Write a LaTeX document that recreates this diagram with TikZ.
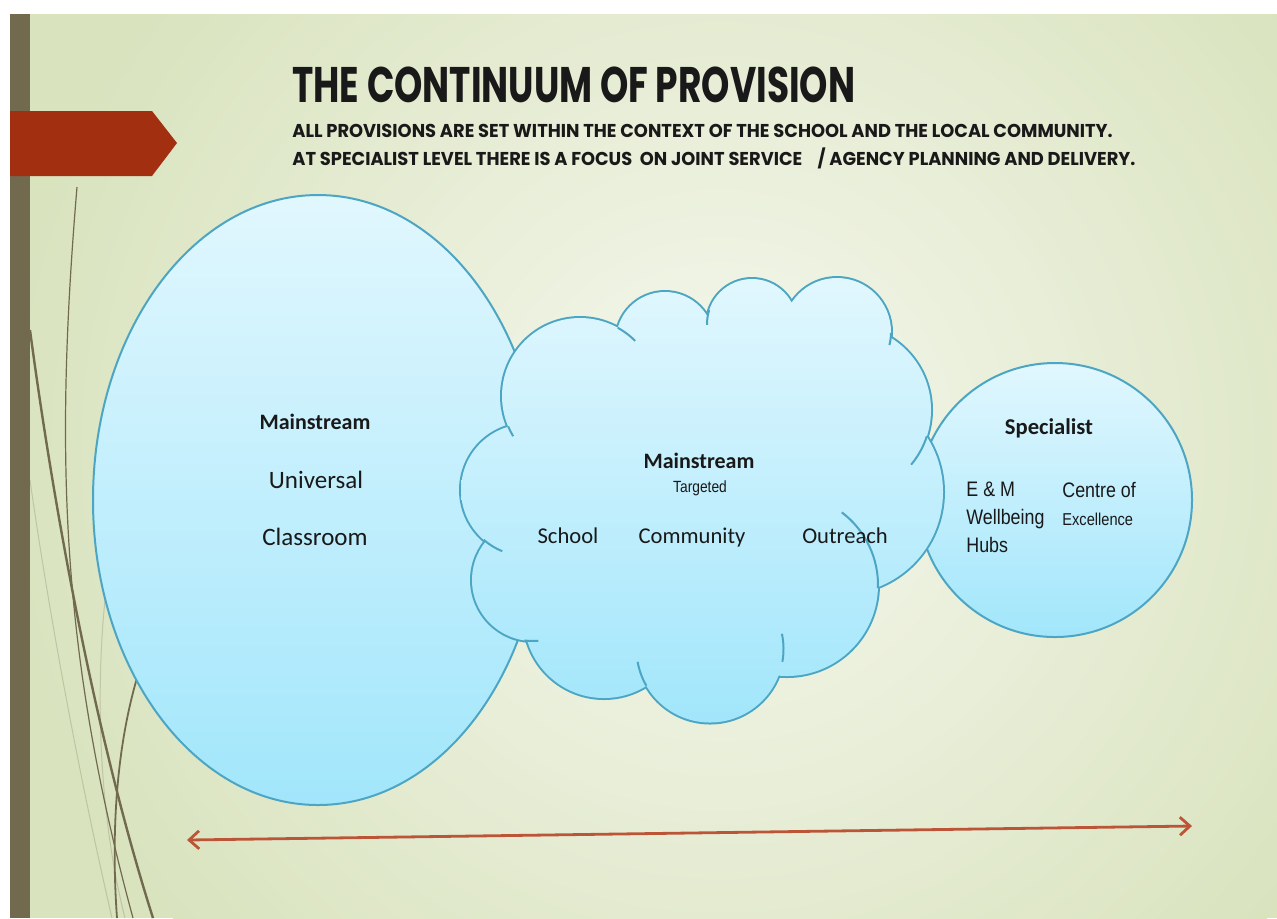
\documentclass[tikz,border=0pt]{standalone}
\usepackage{fontspec}
\setmainfont{Carlito}
\newfontfamily\headfont[FakeStretch=0.72]{Poppins}
\newfontfamily\subfont[FakeStretch=0.96]{Poppins}
\newfontfamily\narrowfont[FakeStretch=0.85]{Liberation Sans}
\usetikzlibrary{arrows.meta}

\definecolor{bgin}{HTML}{F6F8EF}
\definecolor{bgout}{HTML}{D9E3BE}
\definecolor{barbrown}{HTML}{716A4F}
\definecolor{tabred}{HTML}{A32F11}
\definecolor{bubtop}{HTML}{E1F7FE}
\definecolor{bubbot}{HTML}{A2E6FB}
\definecolor{bubline}{HTML}{4CA6C3}
\definecolor{arrowred}{HTML}{BC5538}

\tikzset{
  bubble/.style={draw=bubline, line width=1pt, top color=bubtop, bottom color=bubbot},
  wisp/.style={draw=barbrown},
  label/.style={inner sep=0pt, text=black!90},
}

\begin{document}
\begin{tikzpicture}[x=0.5pt,y=-0.5pt]
\useasboundingbox (0,0) rectangle (1277,918);
\fill[white] (0,0) rectangle (1277,918);

% slide background
\fill[bgout] (10,14) rectangle (1277,918);
\begin{scope}
\clip (10,14) rectangle (1277,918);
\shade[inner color=bgin, outer color=bgout] (720,450) circle (720);
\end{scope}

% wisps at the left edge
\draw[wisp, line width=0.5pt, opacity=0.25] (30,480) .. controls (50,620) and (80,780) .. (112,918);
\draw[wisp, line width=0.5pt, opacity=0.25] (105,600) .. controls (95,700) and (100,820) .. (125,918);
\draw[wisp, line width=0.6pt] (77,187) .. controls (55,450) and (60,650) .. (133,918);
\draw[wisp, line width=1.2pt] (30,330) .. controls (50,480) and (90,720) .. (153,918);
\draw[wisp, line width=0.9pt] (150,640) .. controls (118,720) and (110,820) .. (117,918);

\fill[barbrown] (10,14) rectangle (30,918);
\fill[tabred] (10,111) -- (152,111) -- (177,143) -- (152,176) -- (10,176) -- cycle;

% title
\node[label, anchor=base west, font=\headfont\bfseries\fontsize{25}{30}\selectfont] (title) at (292,102) {THE CONTINUUM OF PROVISION};
\node[label, anchor=base west, font=\subfont\bfseries\fontsize{9.3}{14}\selectfont] (subone) at (292,137) {ALL PROVISIONS ARE SET WITHIN THE CONTEXT OF THE SCHOOL AND THE LOCAL COMMUNITY.};
\node[label, anchor=base west, font=\subfont\bfseries\fontsize{9.3}{14}\selectfont] (subtwo) at (292,165) {AT SPECIALIST LEVEL THERE IS A FOCUS \ ON JOINT SERVICE \ \ \ / AGENCY PLANNING AND DELIVERY.};

% the three provisions
\shade[bubble] (318,500) ellipse (225 and 305);
\shade[bubble] (1055,500) circle (137);

\def\puffs{580/396/78, 665/341/49, 752/324/45, 837/332/54, 846/410/85, 841/492/102,
  787/585/91, 710/649/73.5, 604/618/80, 533/580/61, 527/490/66}
\draw[bubline, line width=2pt] foreach \cx/\cy/\r in \puffs {(\cx,\cy) circle (\r)};
\shade[top color=bubtop, bottom color=bubbot] foreach \cx/\cy/\r in \puffs {(\cx,\cy) circle (\r)}
  (700,480) circle (140) (760,390) circle (50);
\foreach \cx/\cy/\r/\a/\b in {580/396/78/-61/-45, 580/396/78/157/149, 752/324/45/198/179,
  837/332/54/1/14, 846/410/85/18/40, 787/585/91/2/-53, 710/649/73.5/10/-12,
  710/649/73.5/150/170, 527/490/66/131/112, 533/580/61/98/85}
  \draw[bubline, line width=1pt] ([shift={(\a:\r)}]\cx,\cy) arc (\a:\b:\r);

% ellipse text
\node[label, font=\bfseries\fontsize{11}{13}\selectfont] (mainA) at (315,422) {Mainstream};
\node[label, font=\fontsize{12.5}{15}\selectfont] (universal) at (316,480) {Universal};
\node[label, font=\fontsize{12.5}{15}\selectfont] (classroom) at (315,537) {Classroom};

% cloud text
\node[label, font=\bfseries\fontsize{11}{13}\selectfont] (mainB) at (699,461) {Mainstream};
\node[label, font=\narrowfont\fontsize{8.1}{10}\selectfont] (targeted) at (700,488) {Targeted};
\node[label, anchor=base, font=\fontsize{11.3}{14}\selectfont] (school) at (568,543) {School};
\node[label, anchor=base, font=\fontsize{11.3}{14}\selectfont] (community) at (692,543) {Community};
\node[label, anchor=base, font=\fontsize{11.3}{14}\selectfont] (outreach) at (845,543) {Outreach};

% circle text
\node[label, anchor=base, font=\bfseries\fontsize{11.3}{14}\selectfont] (specialist) at (1049,434) {Specialist};
\node[label, anchor=north west, align=left, font=\narrowfont\fontsize{10.5}{14}\selectfont] (hubs) at (966,482) {E \& M\\Wellbeing\\Hubs};
\node[label, anchor=base west, font=\narrowfont\fontsize{10.5}{14}\selectfont] (centre) at (1062,497) {Centre of};
\node[label, anchor=base west, font=\narrowfont\fontsize{8.6}{14}\selectfont] (excellence) at (1062,525) {Excellence};

% continuum arrow
\coordinate (leftend) at (187,840);
\coordinate (rightend) at (1192,826);
\draw[arrowred, line width=1.4pt, {Straight Barb[length=5pt,width=9pt]}-{Straight Barb[length=5pt,width=9pt]}] (leftend) -- (rightend);
\end{tikzpicture}
\end{document}
